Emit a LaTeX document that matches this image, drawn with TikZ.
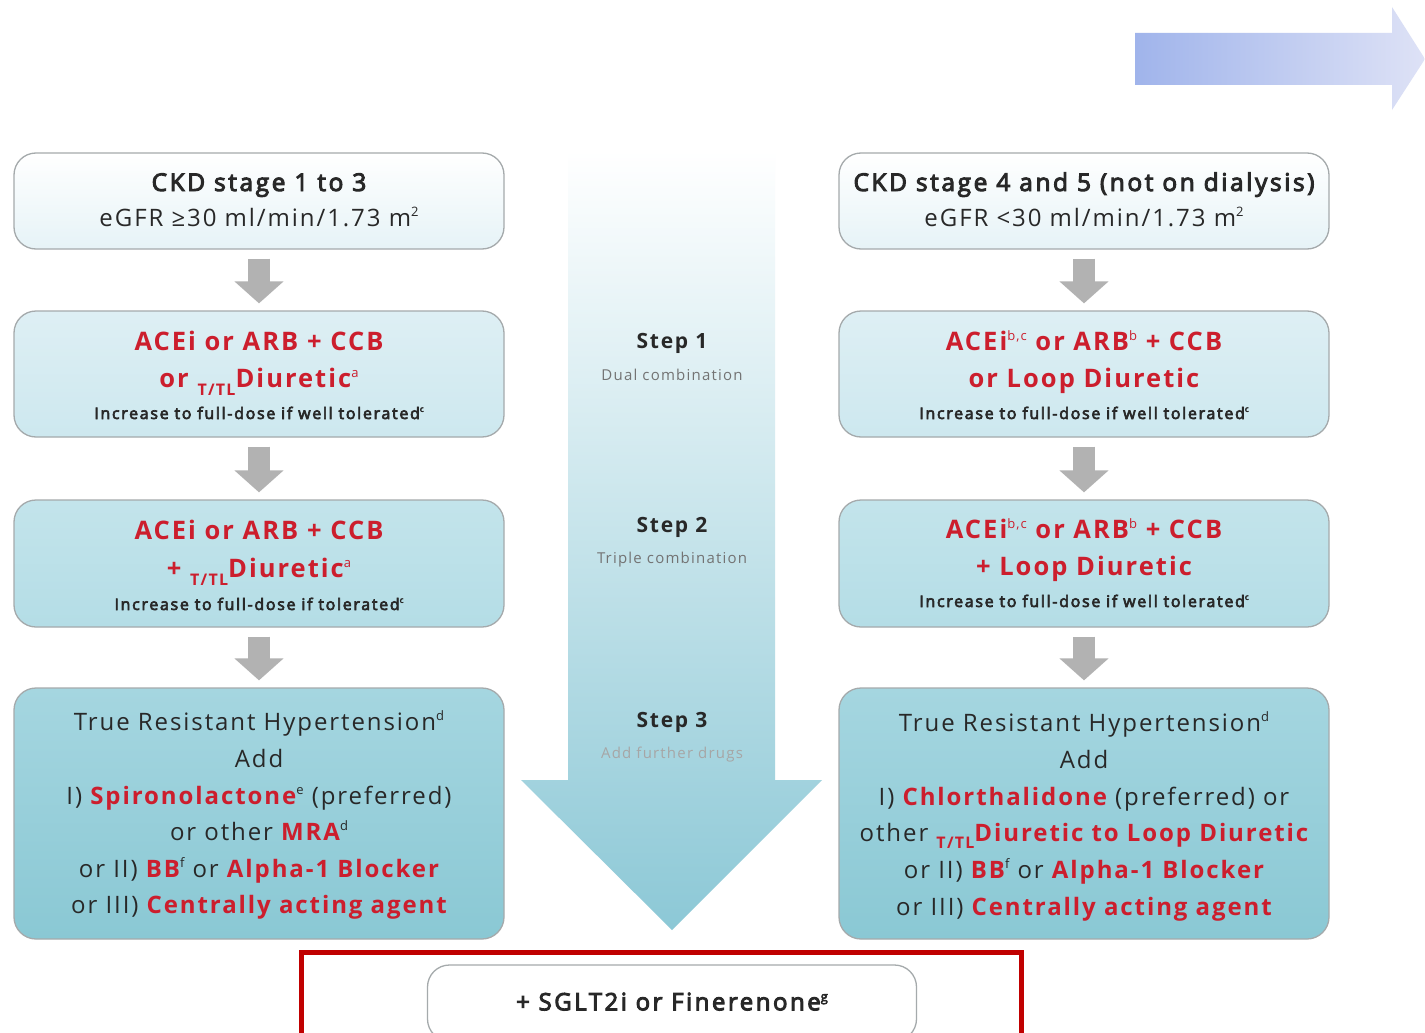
\documentclass[tikz,border=0pt]{standalone}
\usepackage{fontspec}
\setmainfont{Open Sans}[LetterSpace=8]
\newfontfamily\semib[FakeBold=4,LetterSpace=10.5]{Open Sans}
\usetikzlibrary{arrows.meta}
\definecolor{myred}{RGB}{204,30,45}
\definecolor{txt}{RGB}{40,40,40}
\definecolor{bordergray}{RGB}{165,170,172}
\definecolor{arrgray}{RGB}{178,178,178}
\definecolor{frame}{RGB}{192,0,0}
\definecolor{bA}{RGB}{230,243,247}
\definecolor{bBt}{RGB}{222,239,244}
\definecolor{bBb}{RGB}{205,232,239}
\definecolor{bCt}{RGB}{195,228,235}
\definecolor{bCb}{RGB}{180,221,230}
\definecolor{bDt}{RGB}{165,214,224}
\definecolor{bDb}{RGB}{138,200,212}
\definecolor{arrB}{RGB}{140,200,214}
\definecolor{arrM}{RGB}{198,230,237}
\definecolor{topL}{RGB}{160,180,235}
\definecolor{topR}{RGB}{222,226,246}
\newcommand\fbig{\fontsize{24}{30}\selectfont}
\newcommand\fhead{\fontsize{24.5}{30}\selectfont}
\newcommand\fred{\fontsize{25.5}{30}\selectfont}
\newcommand\fsmall{\fontsize{16}{18}\selectfont}
\newcommand\rd[1]{{\color{myred}\bfseries #1}}
\newcommand\ttl{\raisebox{-0.3em}{\fontsize{16}{16}\selectfont\bfseries T/TL}}
\newcommand\sps[1]{\raisebox{0.38em}{\fontsize{13}{13}\selectfont\mdseries #1}}
\newcommand\ssps[1]{\raisebox{0.45em}{\fontsize{8}{8}\selectfont\mdseries #1}}
\begin{document}
\begin{tikzpicture}[x=1pt,y=-1pt,
  box/.style={draw=bordergray, line width=1.3pt, rounded corners=22pt, minimum width=490pt, inner sep=0pt},
  ln/.style={anchor=base, inner sep=0pt, text=txt},
  garrow/.style={draw=arrgray, line width=22pt, -{Triangle[width=48pt,length=22pt]}, shorten <=9pt, shorten >=7pt},
  steph/.style={anchor=base, inner sep=0pt, font=\fontsize{21}{22}\selectfont\bfseries, text=txt},
  stepd/.style={anchor=base, inner sep=0pt, font=\fontsize{15}{17}\selectfont, text=black!55}]
\useasboundingbox (0,0) rectangle (1425,1033);
\clip (0,0) rectangle (1425,1033);
\fill[white] (0,0) rectangle (1425,1033);

% top right arrow
\shade[left color=topL, right color=topR] (1135,33) -- (1392,33) -- (1392,7) -- (1425,59) -- (1392,110) -- (1392,85) -- (1135,85) -- cycle;

% central arrow
\shade[top color=white, middle color=arrM, bottom color=arrB] (568,150) -- (775,150) -- (775,780) -- (822,780) -- (672,930) -- (521,780) -- (568,780) -- cycle;

% boxes left
\node[box, minimum height=96pt, top color=white, bottom color=bA] (L1) at (259,201) {};
\node[box, minimum height=126pt, top color=bBt, bottom color=bBb] (L2) at (259,374) {};
\node[box, minimum height=127pt, top color=bCt, bottom color=bCb] (L3) at (259,563.5) {};
\node[box, minimum height=251pt, top color=bDt, bottom color=bDb] (L4) at (259,813.5) {};
% boxes right
\node[box, minimum height=96pt, top color=white, bottom color=bA] (R1) at (1084,201) {};
\node[box, minimum height=126pt, top color=bBt, bottom color=bBb] (R2) at (1084,374) {};
\node[box, minimum height=127pt, top color=bCt, bottom color=bCb] (R3) at (1084,563.5) {};
\node[box, minimum height=251pt, top color=bDt, bottom color=bDb] (R4) at (1084,813.5) {};

% gray arrows
\draw[garrow] (L1) -- (L2);
\draw[garrow] (L2) -- (L3);
\draw[garrow] (L3) -- (L4);
\draw[garrow] (R1) -- (R2);
\draw[garrow] (R2) -- (R3);
\draw[garrow] (R3) -- (R4);

% left texts
\node[ln] (l1a) at (259,191) {\fhead\semib CKD stage 1 to 3};
\node[ln] (l1b) at (259,226) {\fbig eGFR ≥30 ml/min/1.73 m\sps{2}};
\node[ln] (l2a) at (259,350.5) {\fred\rd{ACEi or ARB + CCB}};
\node[ln] (l2b) at (259,387.5) {\fred\rd{or \ttl Diuretic\sps{a}}};
\node[ln] (l2c) at (259,419) {\fsmall\semib Increase to full-dose if well tolerated\ssps{c}};
\node[ln] (l3a) at (259,539.5) {\fred\rd{ACEi or ARB + CCB}};
\node[ln] (l3b) at (259,577.5) {\fred\rd{+ \ttl Diuretic\sps{a}}};
\node[ln] (l3c) at (259,610) {\fsmall\semib Increase to full-dose if tolerated\ssps{c}};
\node[ln] (l4a) at (259,730) {\fbig True Resistant Hypertension\sps{d}};
\node[ln] (l4b) at (259,767) {\fbig Add};
\node[ln] (l4c) at (259,804) {\fbig I) \rd{Spironolactone}\sps{e} (preferred)};
\node[ln] (l4d) at (259,840) {\fbig or other \rd{MRA}\sps{d}};
\node[ln] (l4e) at (259,877) {\fbig or II) \rd{BB}\sps{f} or \rd{Alpha-1 Blocker}};
\node[ln] (l4f) at (259,913) {\fbig or III) \rd{Centrally acting agent}};

% right texts
\node[ln] (r1a) at (1084,191) {\fhead\semib CKD stage 4 and 5 (not on dialysis)};
\node[ln] (r1b) at (1084,226) {\fbig eGFR <30 ml/min/1.73 m\sps{2}};
\node[ln] (r2a) at (1084,350.5) {\fred\rd{ACEi\sps{b,c} or ARB\sps{b} + CCB}};
\node[ln] (r2b) at (1084,387.5) {\fred\rd{or Loop Diuretic}};
\node[ln] (r2c) at (1084,419) {\fsmall\semib Increase to full-dose if well tolerated\ssps{c}};
\node[ln] (r3a) at (1084,538.5) {\fred\rd{ACEi\sps{b,c} or ARB\sps{b} + CCB}};
\node[ln] (r3b) at (1084,575.5) {\fred\rd{+ Loop Diuretic}};
\node[ln] (r3c) at (1084,607) {\fsmall\semib Increase to full-dose if well tolerated\ssps{c}};
\node[ln] (r4a) at (1084,731) {\fbig True Resistant Hypertension\sps{d}};
\node[ln] (r4b) at (1084,768) {\fbig Add};
\node[ln] (r4c) at (1084,805) {\fbig I) \rd{Chlorthalidone} (preferred) or};
\node[ln] (r4d) at (1084,841) {\fbig other \rd{\ttl Diuretic to Loop Diuretic}};
\node[ln] (r4e) at (1084,878) {\fbig or II) \rd{BB}\sps{f} or \rd{Alpha-1 Blocker}};
\node[ln] (r4f) at (1084,915) {\fbig or III) \rd{Centrally acting agent}};

% step labels
\node[steph] (s1) at (672,348) {Step 1};
\node[stepd] (s1d) at (672,380) {Dual combination};
\node[steph] (s2) at (672,532) {Step 2};
\node[stepd] (s2d) at (672,563) {Triple combination};
\node[steph] (s3) at (672,727) {Step 3};
\node[stepd, text=black!35] (s3d) at (672,758) {Add further drugs};

% bottom
\draw[frame, line width=5pt] (301,1045) -- (301,952) -- (1021,952) -- (1021,1045);
\node[box, minimum width=489pt, minimum height=76pt, fill=white, text=txt] (sg) at (672,1003) {\raisebox{3pt}{\fontsize{24}{30}\selectfont\semib + SGLT2i or Finerenone\sps{g}}};
\end{tikzpicture}
\end{document}
